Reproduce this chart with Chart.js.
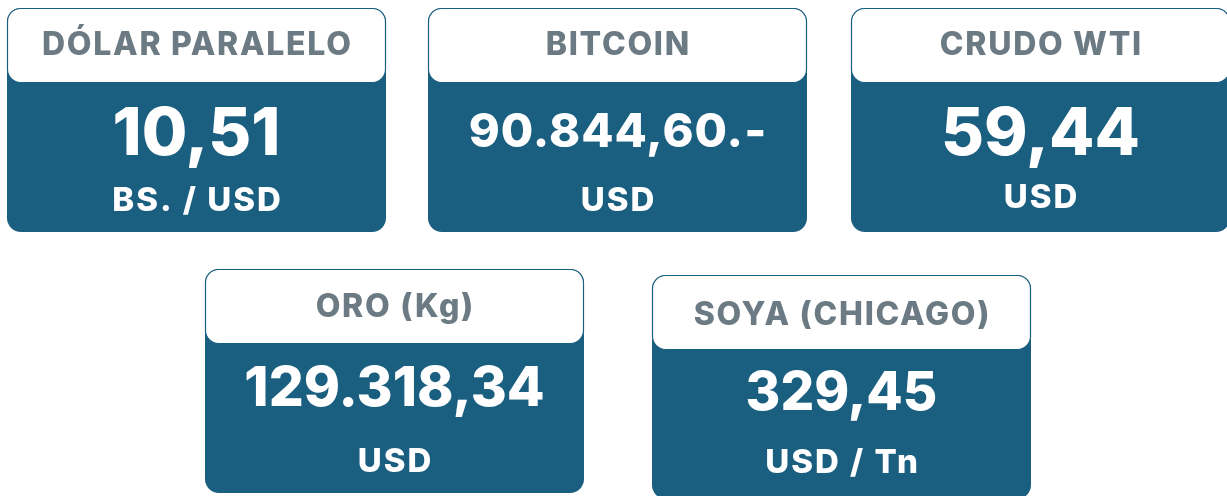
<!DOCTYPE html>
<html>
<head>
<meta charset="utf-8">
<script src="https://cdn.jsdelivr.net/npm/chart.js@4"></script>
<style>
	html, body { margin: 0; padding: 0; background: #ffffff; }
	#board { display: block; }
</style>
</head>
<body>
<canvas id="board" width="1227" height="496"></canvas>
<script>
// indicator data
const titles = ['DÓLAR PARALELO', 'BITCOIN', 'CRUDO WTI', 'ORO (Kg)', 'SOYA (CHICAGO)'];
const values = ['10,51', '90.844,60.-', '59,44', '129.318,34', '329,45'];
const units = ['BS. / USD', 'USD', 'USD', 'USD', 'USD / Tn'];

// card layout (x, y of top-left corner), font sizes and text baselines
const cardPos = [[7, 8], [428, 8], [851, 8], [205, 269], [652, 275]];
const titleBase = [55, 55, 55, 317, 325];
const valueSize = [66, 47, 66, 55, 53];
const valueSpacing = [0, 1, 0, 0, 0];
const valueBase = [155, 147, 155, 406, 410];
const unitBase = [211, 211, 208, 472, 473];

const CARD_W = 379, CARD_H = 224, HEAD_H = 74, RADIUS = 14;
const BLUE = '#1a5f80', GREY = '#6b7a83';
const FONT = 'Inter, "Noto Sans", sans-serif';

function roundRect(ctx, x, y, w, h, r) {
	ctx.beginPath();
	ctx.moveTo(x + r, y);
	ctx.arcTo(x + w, y, x + w, y + h, r);
	ctx.arcTo(x + w, y + h, x, y + h, r);
	ctx.arcTo(x, y + h, x, y, r);
	ctx.arcTo(x, y, x + w, y, r);
	ctx.closePath();
}

// centred text with letter spacing (trailing space compensated)
function spacedText(ctx, text, cx, y, spacing) {
	ctx.letterSpacing = spacing + 'px';
	ctx.fillText(text, cx + spacing / 2, y);
	ctx.letterSpacing = '0px';
}

const cardPlugin = {
	id: 'cards',
	afterDraw(chart) {
		const ctx = chart.ctx;
		ctx.save();
		ctx.textAlign = 'center';
		ctx.textBaseline = 'alphabetic';
		chart.data.labels.forEach(function(title, i) {
			const x = cardPos[i][0], y = cardPos[i][1];
			const cx = x + CARD_W / 2;
			// body
			roundRect(ctx, x, y, CARD_W, CARD_H, RADIUS);
			ctx.fillStyle = BLUE;
			ctx.fill();
			// header
			roundRect(ctx, x + 0.5, y + 0.5, CARD_W - 1, HEAD_H, 13);
			ctx.fillStyle = '#ffffff';
			ctx.fill();
			ctx.lineWidth = 1.2;
			ctx.strokeStyle = BLUE;
			ctx.stroke();
			// texts
			ctx.fillStyle = GREY;
			ctx.font = '800 32px ' + FONT;
			spacedText(ctx, title, cx, titleBase[i], 1.7);
			ctx.fillStyle = '#ffffff';
			ctx.font = '800 ' + valueSize[i] + 'px ' + FONT;
			spacedText(ctx, chart.data.datasets[0].data[i], cx, valueBase[i], valueSpacing[i]);
			ctx.font = '800 33px ' + FONT;
			spacedText(ctx, chart.data.datasets[1].data[i], cx, unitBase[i], 2);
		});
		ctx.restore();
	}
};

new Chart(document.getElementById('board'), {
	type: 'bar',
	data: {
		labels: titles,
		datasets: [
			{ label: 'Valor', data: values, hidden: true },
			{ label: 'Unidad', data: units, hidden: true }
		]
	},
	options: {
		responsive: false,
		animation: false,
		events: [],
		layout: { padding: 0 },
		plugins: { legend: { display: false }, tooltip: { enabled: false } },
		scales: { x: { display: false }, y: { display: false } }
	},
	plugins: [cardPlugin]
});
</script>
</body>
</html>
